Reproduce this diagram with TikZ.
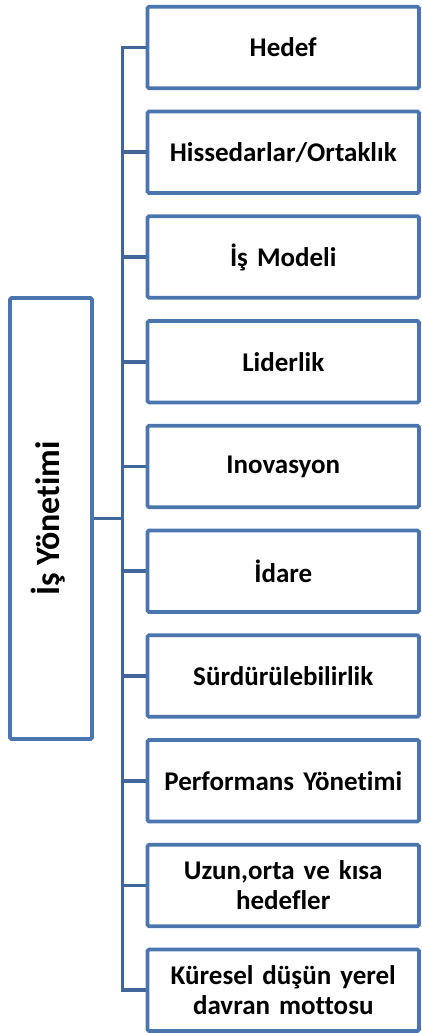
\documentclass[tikz,border=0pt]{standalone}
\usepackage{fontspec}
\setmainfont{Carlito}[Ligatures=NoCommon]
\usetikzlibrary{positioning}
\definecolor{boxblue}{RGB}{74,117,174}
\definecolor{linkblue}{RGB}{64,102,155}
\tikzset{box/.style={draw=boxblue,line width=3.8pt,rounded corners=1.5pt,fill=white,inner sep=0pt}}
\tikzset{item/.style={box,minimum width=271.5pt,minimum height=81.5pt,text width=265pt,align=center,font=\fontsize{27}{30}\selectfont\bfseries}}
\tikzset{link/.style={draw=linkblue,line width=3.8pt}}

\begin{document}
\begin{tikzpicture}[x=1pt,y=-1pt]
  \useasboundingbox (0,0) rectangle (421,1033);
  % main block on the left
  \node[box,minimum width=82pt,minimum height=441pt] (main) at (51,518.5) {};
  \node[rotate=90,font=\fontsize{34}{38}\selectfont\bfseries] (title) at ([xshift=-3pt]main.center) {İş Yönetimi};
  \coordinate (hub) at (122.5,518.5);
  % the ten items
  \foreach \t [count=\i from 0] in {Hedef, Hissedarlar/Ortaklık, İş Modeli, Liderlik, Inovasyon, İdare,
      Sürdürülebilirlik, Performans Yönetimi, {Uzun,orta ve kısa\\hedefler}, {Küresel düşün yerel\\davran mottosu}}
    \node[item] (item\i) at (283.25,{47.5+104.75*\i}) {\t};
  \draw[link] (main.east) -- (hub);
  \draw[link] (item0.west) -- (item0.west -| hub) -- (item9.west -| hub) -- (item9.west);
  \foreach \i in {1,...,8}
    \draw[link] (item\i.west -| hub) -- (item\i.west);
\end{tikzpicture}
\end{document}
